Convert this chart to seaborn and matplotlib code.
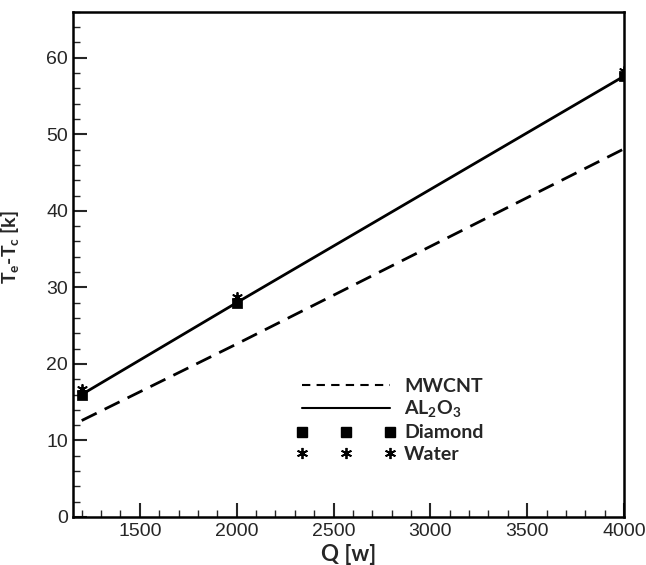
import numpy as np
import pandas as pd
import matplotlib
matplotlib.use("Agg")
import matplotlib.pyplot as plt
import seaborn as sns
from matplotlib.lines import Line2D
from matplotlib.ticker import MultipleLocator

# ────────────────────────────────────────────────────────────────
# Data
# ────────────────────────────────────────────────────────────────
Q = [1200, 2000, 4000]
MWCNT = [12.6, 22.6, 48.1]
AL2O3 = [16.0, 28.0, 57.6]
DIAMOND = [16.0, 28.0, 57.6]
WATER = [16.7, 28.7, 58.3]

sns.set_style("white")
plt.rcParams["font.family"] = ["Liberation Sans", "DejaVu Sans"]

lines_df = pd.DataFrame({
    "Q": Q * 2,
    "dT": MWCNT + AL2O3,
    "fluid": ["MWCNT"] * 3 + ["AL2O3"] * 3,
})

fig = plt.figure(figsize=(6.46, 5.65), dpi=100)
ax = fig.add_axes([0.113, 0.085, 0.853, 0.894])

sns.lineplot(data=lines_df, x="Q", y="dT", style="fluid",
             dashes={"MWCNT": (6, 3.2), "AL2O3": ""},
             color="black", linewidth=2, legend=False, ax=ax)
sns.scatterplot(x=Q, y=DIAMOND, marker="s", s=45, color="black",
                edgecolor="black", ax=ax, zorder=3)
sns.scatterplot(x=Q, y=WATER, marker=(6, 2, 0), s=45, color="black",
                linewidth=1.3, ax=ax, zorder=3)

ax.set_xlim(1155, 4000)
ax.set_ylim(0, 66)
ax.xaxis.set_major_locator(MultipleLocator(500))
ax.xaxis.set_minor_locator(MultipleLocator(100))
ax.yaxis.set_major_locator(MultipleLocator(10))
ax.yaxis.set_minor_locator(MultipleLocator(2))
ax.tick_params(which="major", direction="in", length=10, width=1.5,
               labelsize=14, bottom=True, left=True, top=False, right=False)
ax.tick_params(which="minor", direction="in", length=5, width=1,
               bottom=True, left=True, top=False, right=False)
ax.tick_params(axis="x", pad=4)
for lbl in ax.get_xticklabels() + ax.get_yticklabels():
    lbl.set_family(["Liberation Sans", "DejaVu Sans"])
for sp in ax.spines.values():
    sp.set_linewidth(1.8)
    sp.set_color("black")

ax.set_xlabel("Q [w]", fontsize=16, fontweight="bold", labelpad=3,
              family=["Lato", "DejaVu Sans"])
ax.set_ylabel(r"T$_\mathregular{e}$-T$_\mathregular{c}$ [k]", fontsize=14,
              fontweight="bold", family=["Lato", "DejaVu Sans"])
ax.yaxis.set_label_coords(-0.093, 0.535)

handles = [
    Line2D([], [], color="black", linestyle=(0, (4, 3)), linewidth=1.5),
    Line2D([], [], color="black", linestyle="-", linewidth=1.5),
    Line2D([], [], color="black", linestyle="none", marker="s", markersize=7),
    Line2D([], [], color="black", linestyle="none", marker=(6, 2, 0),
           markersize=8, markeredgewidth=1.3),
]
labels = ["MWCNT", r"AL$_\mathregular{2}$O$_\mathregular{3}$", "Diamond", "Water"]
leg = ax.legend(handles, labels, loc="upper left", bbox_to_anchor=(0.405, 0.276),
                frameon=False, numpoints=3, handlelength=5.1, handletextpad=0.45,
                labelspacing=0.22, borderpad=0, borderaxespad=0,
                prop={"family": ["Lato", "DejaVu Sans"],
                      "weight": "bold", "size": 14})

fig.savefig("out.png", dpi=100)
